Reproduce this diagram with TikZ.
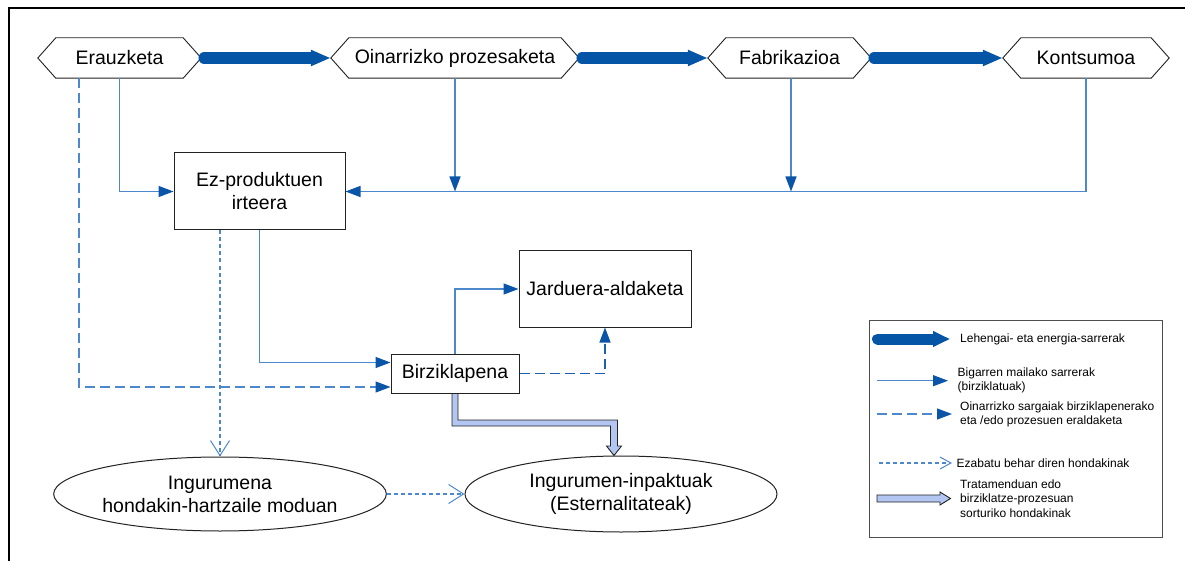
\documentclass[tikz,border=0pt]{standalone}
\usepackage{fontspec}
\setmainfont{Liberation Sans}
\usetikzlibrary{arrows.meta,shapes.geometric,calc}
\definecolor{thickblue}{HTML}{0455A6}
\definecolor{lineblue}{HTML}{4E88CC}
\definecolor{tipblue}{HTML}{0A55A8}
\definecolor{darkdash}{HTML}{1F5FAF}
\definecolor{hollowfill}{HTML}{B3C6F2}
\definecolor{boxgray}{HTML}{222222}
\newcommand\mainfs{\fontsize{19.5}{23}\selectfont}
\newcommand\legfs{\fontsize{12}{14.5}\selectfont}
\tikzset{
  hexnode/.style={rectangle, minimum height=40pt, inner sep=0pt, font=\mainfs},
  hexline/.style={draw=boxgray, line width=0.9pt, fill=white},
  boxnode/.style={rectangle, draw=boxgray, line width=1pt, fill=white, inner sep=0pt, align=center, font=\mainfs},
  ellnode/.style={ellipse, draw=boxgray, line width=1pt, fill=white, inner sep=0pt, align=center, font=\mainfs},
  conn/.style={draw=lineblue, line width=1.3pt, -{Triangle[length=15pt,width=11pt,color=tipblue]}},
  dconn/.style={conn, dash pattern=on 10pt off 5pt},
  wconn/.style={draw=lineblue, line width=1.2pt, dash pattern=on 4pt off 3pt, -{Straight Barb[length=15pt,width=19pt,color=lineblue,line width=1pt]}},
  smallbarb/.style={-{Straight Barb[length=11pt,width=12pt,color=lineblue,line width=1pt]}},
  flowarrow/.style={draw=thickblue, line width=11.5pt, line cap=round, -{Triangle[length=20pt,width=15pt]}},
  hollowarrow/.style={fill=hollowfill, draw=boxgray, line width=0.9pt, line join=miter},
  legtext/.style={anchor=west, inner sep=0pt, align=left, font=\legfs},
  legbox/.style={rectangle, draw=boxgray!80, line width=0.9pt, inner sep=0pt}
}
\begin{document}
\begin{tikzpicture}[x=1pt,y=-1pt]
\useasboundingbox (0,0) rectangle (1185,561);
% frame
\draw[line width=2pt] (9,561) -- (9,8.5) -- (1185,8.5);

% top row hexagons
\node[hexnode, minimum width=127pt] (erz) at (119.5,58) {};
\node[hexnode, minimum width=212pt] (oin) at (455,58) {};
\node[hexnode, minimum width=127pt] (fab) at (789.5,58) {};
\node[hexnode, minimum width=130pt] (kon) at (1086,58) {};
\foreach \n in {erz,oin,fab,kon}{
  \draw[hexline] (\n.north west) -- (\n.north east) -- ($(\n.east)+(18,0)$) -- (\n.south east) -- (\n.south west) -- ($(\n.west)+(-18,0)$) -- cycle;
}
\node[font=\mainfs] at (erz) {Erauzketa};
\node[font=\mainfs] at (oin) {Oinarrizko prozesaketa};
\node[font=\mainfs] at (fab) {Fabrikazioa};
\node[font=\mainfs] at (kon) {Kontsumoa};

\draw[flowarrow] ($(erz.east)+(21,0)$) -- ($(oin.west)+(-18,0)$);
\draw[flowarrow] ($(oin.east)+(21,0)$) -- ($(fab.west)+(-18,0)$);
\draw[flowarrow] ($(fab.east)+(21,0)$) -- ($(kon.west)+(-18,0)$);

% boxes
\node[boxnode, minimum width=171pt, minimum height=77pt] (ez) at (259.5,191.5) {Ez-produktuen\\irteera};
\node[boxnode, minimum width=128pt, minimum height=39pt] (bir) at (455,373.5) {Birziklapena};
\node[boxnode, minimum width=172pt, minimum height=76pt] (jar) at (605,289) {Jarduera-aldaketa};
\node[ellnode, minimum width=314pt, minimum height=74pt] (ing) at (220,494) {Ingurumena\\hondakin-hartzaile moduan};
\node[ellnode, minimum width=312pt, minimum height=76pt] (imp) at (621,494) {Ingurumen-inpaktuak\\(Esternalitateak)};

\coordinate (c79) at (79,0);
\coordinate (c791) at (791,0);

% connectors
\draw[conn] (erz.south) |- (ez.west);
\draw[conn] (kon.south) |- (ez.east);
\draw[conn] (oin.south) -- (oin.south |- ez.east);
\draw[conn] (c791 |- fab.south) -- (c791 |- ez.east);
\draw[dconn] (c79 |- erz.south) |- ($(bir.south west)+(0,-6.5)$);
\draw[conn] (ez.south) |- ($(bir.north west)+(0,9)$);
\draw[wconn] (ez.south -| ing.north) -- (ing.north);
\draw[conn] (bir.north) |- (jar.west);
\draw[dconn, draw=darkdash] (bir.east) -| (jar.south);
\draw[wconn] (ing.east) -- (imp.west);

% hollow arrow from Birziklapena to impacts
\draw[hollowarrow] ($(bir.south)+(-3,0)$) -- (452,426) -- (610.5,426) -- (610.5,446) -- (606.5,446)
  -- ($(imp.north)+(-7,0)$) -- (621.5,446) -- (617.5,446) -- (617.5,420) -- (458,420) -- ($(bir.south)+(3,0)$) -- cycle;

% legend
\node[legbox, minimum width=293pt, minimum height=217pt] (legend) at (1015.5,428.5) {};
\coordinate (l1a) at (877.5,339);  \coordinate (l1b) at (950,339);
\coordinate (l2a) at (877,380.7);  \coordinate (l2b) at (948,380.7);
\coordinate (l3a) at (877,414);    \coordinate (l3b) at (952,414);
\coordinate (l4a) at (879,463);    \coordinate (l4b) at (952,463);
\draw[flowarrow, line width=11pt, -{Triangle[length=17pt,width=15pt]}] (l1a) -- (l1b);
\draw[conn] (l2a) -- (l2b);
\draw[dconn] (l3a) -- (l3b);
\draw[wconn, smallbarb] (l4a) -- (l4b);
\draw[hollowarrow] (877,495) -- (940,495) -- (940,492) -- (950.5,498.5) -- (940,505) -- (940,502) -- (877,502) -- cycle;

\node[legtext] at (960,339) {Lehengai- eta energia-sarrerak};
\node[legtext] at (957.5,380.4) {Bigarren mailako sarrerak\\(birziklatuak)};
\node[legtext] at (960,414.5) {Oinarrizko sargaiak birziklapenerako\\eta /edo prozesuen eraldaketa};
\node[legtext] at (956.5,463) {Ezabatu behar diren hondakinak};
\node[legtext] at (960,498.5) {Tratamenduan edo\\birziklatze-prozesuan\\sorturiko hondakinak};
\end{tikzpicture}
\end{document}
